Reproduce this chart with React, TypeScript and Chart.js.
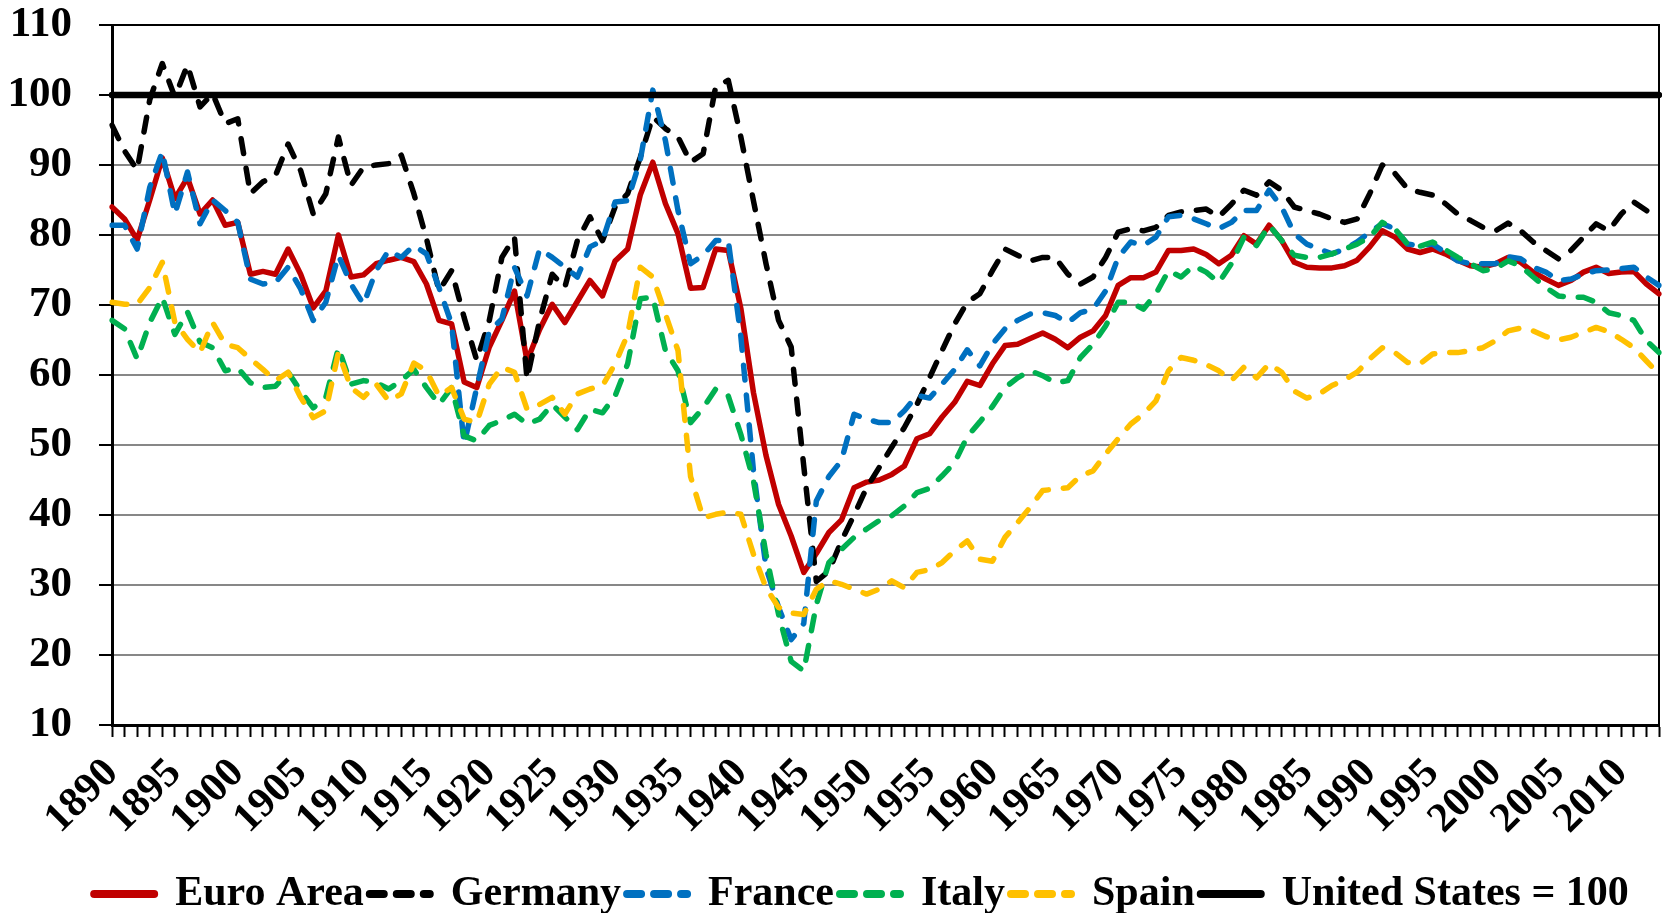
import { useEffect, useRef } from 'react';
import { Chart, registerables } from 'chart.js';

Chart.register(...registerables);

// Categories: one per year, 1890 to 2013
const YEARS: string[] = Array.from({ length: 124 }, (_, i) => String(1890 + i));

const EURO_AREA = [
  84.0, 82.3, 79.3, 85.0, 91.0, 85.2, 88.2, 83.0, 85.0, 81.4,
  81.8, 74.4, 74.8, 74.4, 78.0, 74.4, 69.6, 72.0, 80.0, 74.0,
  74.3, 75.9, 76.4, 76.8, 76.2, 73.0, 67.8, 67.3, 59.0, 58.2,
  64.0, 67.8, 72.0, 62.0, 66.5, 70.1, 67.5, 70.5, 73.5, 71.3,
  76.3, 78.0, 85.7, 90.4, 84.5, 80.2, 72.4, 72.5, 78.0, 77.8,
  69.5, 57.5, 48.5, 41.5, 37.0, 31.8, 34.5, 37.5, 39.3, 43.9,
  44.7, 45.0, 45.8, 47.0, 50.9, 51.6, 54.0, 56.1, 59.1, 58.5,
  61.6, 64.2, 64.4, 65.2, 66.0, 65.1, 63.9, 65.4, 66.3, 68.5,
  72.8, 73.9, 73.9, 74.7, 77.8, 77.8, 78.0, 77.2, 75.9, 77.1,
  79.9, 78.7, 81.4, 79.2, 76.1, 75.4, 75.3, 75.3, 75.6, 76.4,
  78.3, 80.6, 79.7, 78.0, 77.5, 78.0, 77.3, 76.4, 75.6, 75.4,
  75.9, 76.8, 76.1, 74.7, 73.7, 72.8, 73.5, 74.7, 75.4, 74.5,
  74.7, 74.8, 73.0, 71.6,
];

const GERMANY = [
  95.7, 92.0, 89.3, 99.3, 104.5, 99.7, 104.3, 98.3, 100.2, 95.9,
  96.6, 85.9, 87.6, 88.5, 93.0, 89.2, 83.0, 85.9, 94.0, 87.1,
  89.7, 90.0, 90.2, 91.4, 85.9, 79.5, 72.0, 74.9, 68.2, 62.1,
  67.8, 76.8, 79.7, 59.4, 67.8, 74.4, 72.5, 79.2, 82.6, 79.2,
  84.0, 85.9, 91.1, 96.9, 95.2, 94.0, 90.4, 91.6, 101.2, 102.1,
  94.0, 84.9, 75.9, 67.8, 64.0, 47.0, 30.5, 32.0, 36.3, 40.0,
  43.9, 46.8, 49.7, 52.5, 55.8, 59.6, 63.5, 67.3, 70.4, 71.6,
  74.9, 78.0, 77.1, 76.3, 76.8, 76.8, 74.4, 73.0, 74.0, 76.8,
  80.4, 80.9, 80.6, 81.1, 82.8, 83.3, 83.5, 83.7, 82.6, 84.4,
  86.4, 85.7, 87.6, 86.4, 84.0, 83.5, 83.0, 82.3, 81.8, 82.3,
  85.9, 90.0, 88.8, 86.6, 86.1, 85.7, 84.5, 83.0, 82.1, 81.1,
  80.6, 81.7, 80.6, 79.0, 77.8, 76.6, 77.8, 79.7, 81.6, 80.6,
  83.0, 84.7, 83.5, 82.3,
];

const FRANCE = [
  81.4, 81.4, 78.0, 86.8, 91.9, 83.0, 89.0, 81.6, 85.0, 83.5,
  81.8, 73.7, 73.0, 73.2, 75.4, 72.3, 67.8, 70.4, 77.1, 73.0,
  70.1, 74.9, 77.8, 76.8, 78.5, 77.3, 72.5, 67.3, 50.1, 58.2,
  66.3, 68.0, 75.4, 71.3, 78.0, 76.8, 75.4, 74.0, 78.3, 79.2,
  84.7, 84.9, 90.7, 100.7, 93.5, 83.5, 75.9, 77.1, 79.2, 79.2,
  65.5, 46.4, 32.5, 26.8, 22.2, 24.5, 42.0, 45.5, 47.8, 54.4,
  53.7, 53.2, 53.2, 54.9, 57.1, 56.7, 58.7, 60.8, 63.6, 61.3,
  64.4, 66.6, 67.8, 68.7, 68.9, 68.5, 67.5, 68.9, 69.4, 72.0,
  76.8, 79.0, 78.5, 79.7, 82.6, 82.8, 82.3, 81.6, 80.9, 81.8,
  83.5, 83.5, 86.4, 84.0, 80.2, 78.7, 78.0, 77.3, 78.0, 79.0,
  80.4, 81.6, 80.9, 78.7, 78.5, 78.7, 77.5, 76.3, 75.9, 75.9,
  75.9, 76.9, 76.6, 75.4, 74.7, 73.5, 73.7, 74.4, 74.9, 75.0,
  75.2, 75.4, 74.0, 72.8,
];

const ITALY = [
  67.8, 66.6, 62.3, 67.5, 71.1, 65.8, 69.0, 64.7, 63.9, 60.6,
  61.0, 58.9, 58.2, 58.4, 60.4, 57.7, 55.3, 56.8, 63.9, 58.7,
  59.2, 58.9, 58.0, 59.2, 60.8, 58.2, 55.8, 58.2, 51.3, 50.6,
  52.8, 53.5, 54.4, 53.0, 53.7, 55.8, 54.0, 52.2, 55.1, 54.6,
  57.0, 61.6, 70.9, 71.1, 63.5, 60.6, 53.2, 55.3, 58.0, 57.0,
  51.5, 44.9, 34.4, 25.8, 19.1, 17.7, 27.2, 33.2, 35.1, 36.8,
  38.0, 39.2, 39.9, 41.3, 43.2, 43.8, 45.6, 47.5, 51.2, 53.3,
  55.5, 58.2, 59.6, 60.6, 59.9, 58.9, 59.2, 62.5, 64.4, 67.0,
  70.4, 70.4, 69.4, 71.6, 74.9, 74.0, 75.6, 74.7, 73.2, 75.9,
  79.7, 78.5, 81.4, 79.2, 77.1, 76.8, 76.8, 77.3, 78.0, 78.7,
  79.7, 81.8, 80.9, 78.7, 78.4, 79.0, 77.9, 76.8, 75.9, 74.9,
  75.2, 76.3, 75.6, 74.0, 72.5, 71.3, 71.1, 71.1, 70.4, 68.9,
  68.5, 67.8, 64.9, 63.2,
];

const SPAIN = [
  70.4, 70.1, 70.1, 72.5, 76.1, 67.5, 65.1, 63.2, 67.5, 64.4,
  63.9, 62.3, 60.8, 59.2, 60.4, 56.8, 53.9, 54.9, 63.2, 58.2,
  56.8, 58.7, 56.3, 57.3, 61.7, 60.6, 57.0, 58.2, 53.7, 53.2,
  58.7, 61.1, 60.4, 55.1, 55.8, 56.8, 54.4, 57.3, 58.0, 58.5,
  61.6, 65.8, 75.4, 74.0, 68.7, 63.5, 45.5, 39.6, 40.1, 40.4,
  40.1, 34.4, 29.6, 26.8, 26.0, 25.8, 29.4, 30.6, 30.1, 29.4,
  28.7, 29.4, 30.6, 29.6, 31.8, 32.2, 33.2, 34.9, 36.3, 33.7,
  33.4, 36.8, 38.9, 41.1, 43.5, 43.7, 43.9, 45.6, 46.3, 48.7,
  50.9, 53.0, 54.4, 56.3, 60.6, 62.5, 62.1, 61.5, 60.6, 59.2,
  61.1, 59.6, 61.6, 60.4, 57.7, 56.7, 57.3, 58.5, 59.3, 60.4,
  62.3, 63.9, 63.2, 61.8, 61.6, 63.0, 63.2, 63.2, 63.5, 63.9,
  64.9, 66.3, 66.7, 66.3, 65.5, 65.0, 65.4, 66.1, 66.8, 66.2,
  65.1, 63.9, 62.0, 60.1,
];

// Reference level: United States = 100, across the whole period
const US_LEVEL = [
  { x: '1890', y: 100 },
  { x: '2013', y: 100 },
];

const Y_MIN = 10;
const Y_MAX = 110;
const Y_STEP = 10;
const LABEL_EVERY = 5;

const FONT_FAMILY = "'Liberation Serif', 'Times New Roman', serif";

export default function App() {
  const ref = useRef<HTMLCanvasElement>(null);

  useEffect(() => {
    if (!ref.current) return;
    const fontX = { family: FONT_FAMILY, weight: 'bold' as const, size: 42 };
    const fontY = { family: FONT_FAMILY, weight: 'bold' as const, size: 43 };
    const fontLegend = { family: FONT_FAMILY, weight: 'bold' as const, size: 42 };

    const series = (label: string, data: any[], color: string, order: number, dashed: boolean, width = 5.5) => ({
      label,
      data,
      borderColor: color,
      backgroundColor: color,
      borderWidth: width,
      borderDash: dashed ? [15, 15] : [],
      borderCapStyle: 'round' as const,
      borderJoinStyle: 'round' as const,
      pointRadius: 0,
      pointHoverRadius: 0,
      pointStyle: 'line' as const,
      tension: 0,
      fill: false,
      order,
    });

    const frame = {
      id: 'frame',
      afterLayout(chart: any) {
        const lg = chart.legend;
        if (lg) {
          lg.top += 12;
          lg.bottom += 12;
          lg.left += 32;
          lg.right += 32;
        }
      },
      beforeDatasetsDraw(chart: any) {
        const { ctx, chartArea: a } = chart;
        ctx.save();
        ctx.strokeStyle = '#000';
        ctx.lineWidth = 2;
        ctx.beginPath();
        ctx.moveTo(a.left, a.top);
        ctx.lineTo(a.right, a.top);
        ctx.lineTo(a.right, a.bottom);
        ctx.stroke();
        ctx.restore();
      },
    };

    const chart = new Chart(ref.current, {
      type: 'line',
      data: {
        labels: YEARS,
        datasets: [
          series('Euro Area', EURO_AREA, '#C00000', 6, false),
          series('Germany', GERMANY, '#000000', 5, true),
          series('France', FRANCE, '#0070C0', 4, true),
          series('Italy', ITALY, '#00B050', 3, true),
          series('Spain', SPAIN, '#FFC000', 2, true),
          series('United States = 100', US_LEVEL, '#000000', 1, false, 6.5),
        ] as any,
      },
      options: {
        animation: false,
        responsive: true,
        maintainAspectRatio: false,
        layout: { padding: { left: 0, right: 3, top: 25, bottom: 0 } },
        plugins: {
          tooltip: { enabled: false },
          legend: {
            position: 'bottom',
            labels: {
              font: fontLegend,
              color: '#000',
              usePointStyle: true,
              pointStyleWidth: 60,
              padding: 6,
              sort: (a: any, b: any) => a.datasetIndex - b.datasetIndex,
              generateLabels: (ch: any) => {
                const items = (Chart.defaults.plugins.legend.labels as any).generateLabels(ch);
                return items.map((it: any) => {
                  const ds = ch.data.datasets[it.datasetIndex];
                  return {
                    ...it,
                    pointStyle: 'line',
                    strokeStyle: ds.borderColor,
                    fillStyle: ds.borderColor,
                    lineWidth: 8,
                    lineCap: 'round',
                    lineDash: ds.borderDash && ds.borderDash.length ? [14, 13] : [],
                  };
                });
              },
            },
          },
        },
        scales: {
          x: {
            type: 'category',
            offset: false,
            afterFit: (s: any) => {
              s.paddingLeft = 0;
              s.paddingRight = 0;
              s.height = 130;
            },
            grid: {
              display: true,
              drawOnChartArea: false,
              drawTicks: true,
              tickLength: 12,
              tickColor: '#000',
              tickWidth: 2,
            },
            border: { display: true, color: '#000', width: 3 },
            ticks: {
              autoSkip: false,
              minRotation: 45,
              maxRotation: 45,
              padding: 12,
              color: '#000',
              font: fontX,
              callback: (_v: any, i: number) => {
                const y = Number(YEARS[i]);
                return y % LABEL_EVERY === 0 ? String(y) : '';
              },
            },
          },
          y: {
            min: Y_MIN,
            max: Y_MAX,
            afterFit: (s: any) => {
              s.paddingTop = 0;
              s.paddingBottom = 0;
              s.width = 112;
            },
            grid: {
              color: '#878787',
              lineWidth: 2,
              tickLength: 13,
              tickColor: '#000',
              tickWidth: 2,
            },
            border: { display: true, color: '#000', width: 3 },
            ticks: {
              stepSize: Y_STEP,
              padding: 27,
              color: '#000',
              font: fontY,
            },
          },
        },
      },
      plugins: [frame],
    });

    return () => chart.destroy();
  }, []);

  return (
    <div style={{ position: 'absolute', left: 0, top: 0, width: 1662, height: 913, background: '#fff' }}>
      <canvas ref={ref} />
    </div>
  );
}
